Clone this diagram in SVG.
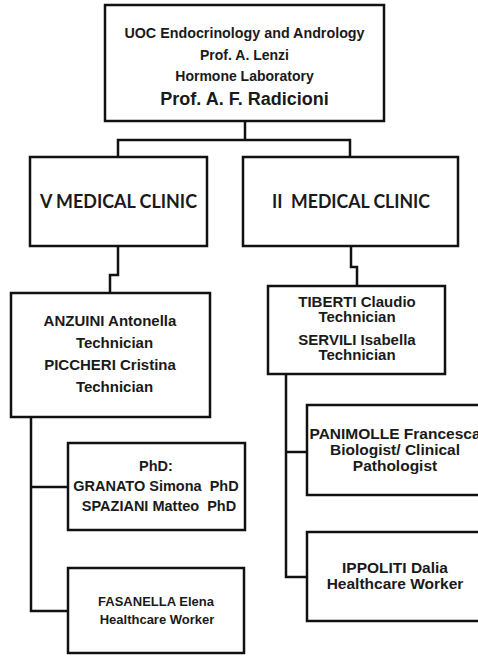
<svg xmlns="http://www.w3.org/2000/svg" width="478" height="656" viewBox="0 0 478 656">
<style>
.box{fill:#fff;stroke:#111;stroke-width:2.5}
.con{fill:none;stroke:#111;stroke-width:2.5}
text{font-family:"Liberation Sans",Arial,sans-serif;font-weight:bold;fill:#1a1a1a;text-anchor:middle}
.t14{font-size:14px}
.t15{font-size:15px}
.t155{font-size:15.5px}
.t145{font-size:14.5px}
.t13{font-size:13px}
.clinic{font-family:Lato,"Open Sans",sans-serif;font-size:19px;font-weight:bold}
</style>
<rect width="478" height="656" fill="#fff"/>
<g id="connectors">
<path class="con" d="M245 121V140M118 157V140H350V157"/>
<path class="con" d="M118 246V275H110V293"/>
<path class="con" d="M351 246V267H357V286"/>
<path class="con" d="M31 417V611H68M31 487H68"/>
<path class="con" d="M286 374V577H307M286 452H307"/>
</g>
<g id="top">
<rect class="box" x="105" y="5" width="279" height="116"/>
<text class="t14" x="244.5" y="38" style="font-size:14.3px">UOC Endocrinology and Andrology</text>
<text class="t14" x="244.5" y="60">Prof. A. Lenzi</text>
<text class="t14" x="244.5" y="81">Hormone Laboratory</text>
<text x="244.5" y="105" style="font-size:18px">Prof. A. F. Radicioni</text>
</g>
<g id="v-clinic">
<rect class="box" x="30" y="157" width="177" height="89"/>
<text class="clinic" x="118.5" y="208" textLength="157" lengthAdjust="spacingAndGlyphs">V MEDICAL CLINIC</text>
</g>
<g id="ii-clinic">
<rect class="box" x="243" y="157" width="215" height="89"/>
<text class="clinic" x="351" y="208" textLength="158" lengthAdjust="spacingAndGlyphs" xml:space="preserve">II  MEDICAL CLINIC</text>
</g>
<g id="anzuini">
<rect class="box" x="11" y="293" width="199" height="124"/>
<text class="t15" x="110" y="326">ANZUINI Antonella</text>
<text class="t15" x="114.5" y="348">Technician</text>
<text class="t15" x="110" y="370">PICCHERI Cristina</text>
<text class="t15" x="114.5" y="392">Technician</text>
</g>
<g id="tiberti">
<rect class="box" x="268" y="286" width="177" height="88"/>
<text class="t15" x="357" y="307">TIBERTI Claudio</text>
<text class="t15" x="357" y="322">Technician</text>
<text class="t15" x="357" y="345">SERVILI Isabella</text>
<text class="t15" x="357" y="360">Technician</text>
</g>
<g id="panimolle">
<rect class="box" x="307" y="405" width="190" height="90"/>
<text class="t155" x="395" y="439">PANIMOLLE Francesca</text>
<text class="t155" x="395" y="455">Biologist/ Clinical</text>
<text class="t155" x="395" y="471">Pathologist</text>
</g>
<g id="ippoliti">
<rect class="box" x="307" y="532" width="190" height="89"/>
<text class="t155" x="395" y="573">IPPOLITI Dalia</text>
<text class="t155" x="395" y="589">Healthcare Worker</text>
</g>
<g id="phd">
<rect class="box" x="68" y="443" width="177" height="87"/>
<text class="t145" x="156" y="471">PhD:</text>
<text class="t145" x="156" y="491" xml:space="preserve">GRANATO Simona  PhD</text>
<text class="t145" x="159" y="511" xml:space="preserve">SPAZIANI Matteo  PhD</text>
</g>
<g id="fasanella">
<rect class="box" x="68" y="568" width="176" height="85"/>
<text class="t13" x="156" y="606">FASANELLA Elena</text>
<text class="t13" x="157" y="624">Healthcare Worker</text>
</g>
</svg>
